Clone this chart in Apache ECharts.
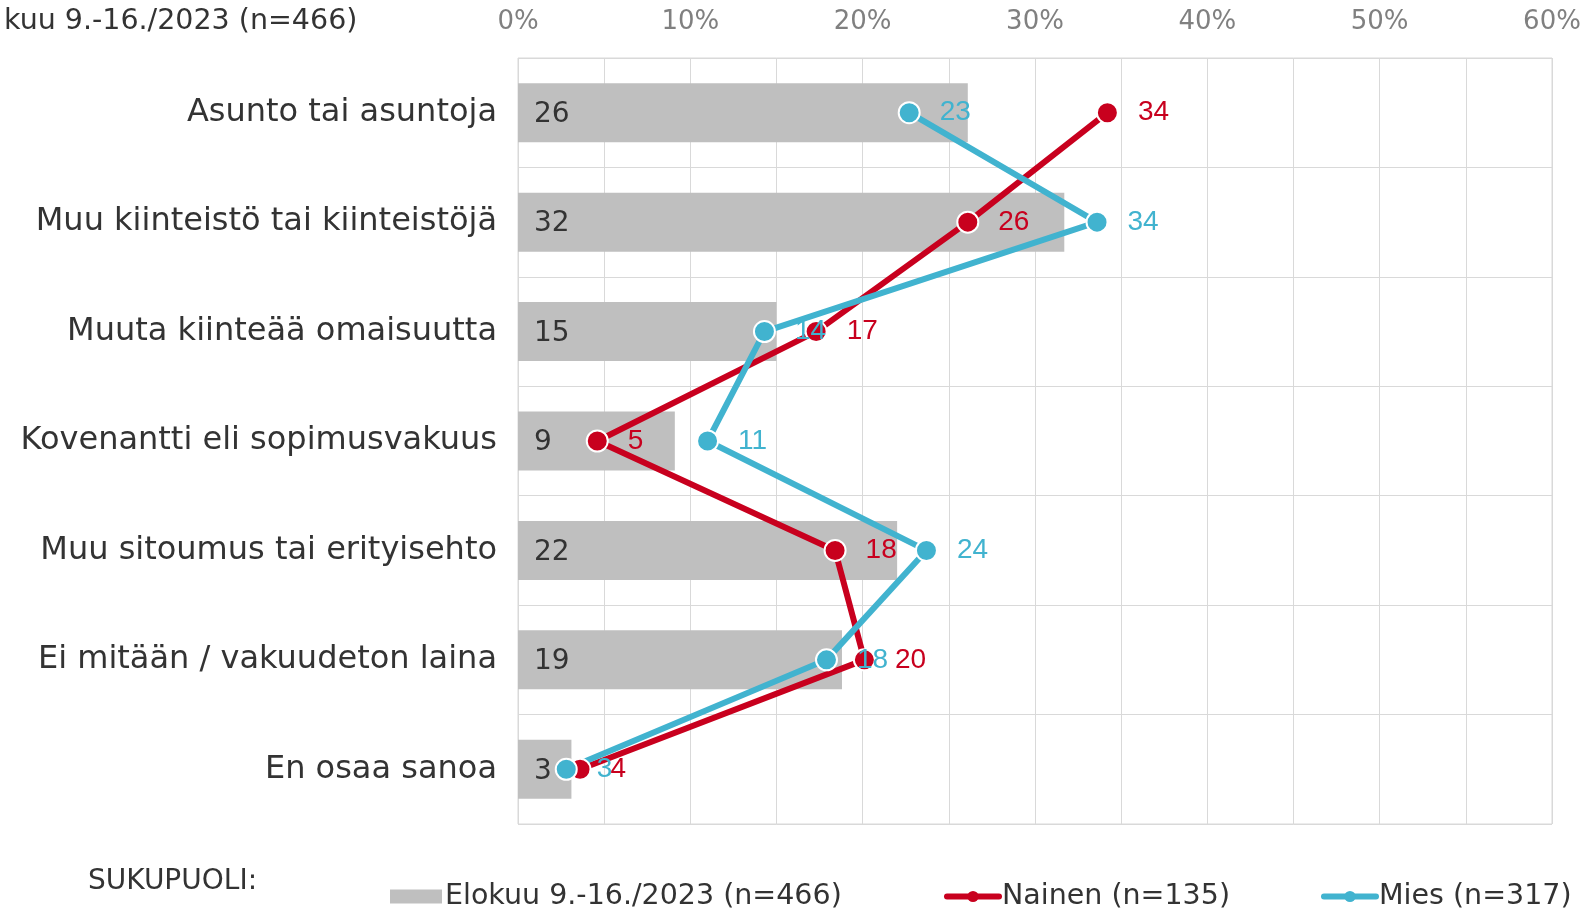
<!DOCTYPE html>
<html>
<head>
<meta charset="utf-8">
<script src="https://cdn.jsdelivr.net/npm/echarts@6/dist/echarts.min.js"></script>
<style>
  html, body { margin: 0; padding: 0; background: #fff; }
  #chart { width: 1591px; height: 913px; }
</style>
</head>
<body>
<div id="chart"></div>
<script>
const categories = ['Asunto tai asuntoja', 'Muu kiinteistö tai kiinteistöjä', 'Muuta kiinteää omaisuutta',
  'Kovenantti eli sopimusvakuus', 'Muu sitoumus tai erityisehto', 'Ei mitään / vakuudeton laina', 'En osaa sanoa']
const kaikki = [26.1, 31.7, 15.0, 9.1, 22.0, 18.8, 3.1]
const nainen = [34.2, 26.1, 17.3, 4.6, 18.4, 20.1, 3.6]
const mies = [22.7, 33.6, 14.3, 11.0, 23.7, 17.9, 2.8]
const xTicks = [0, 10, 20, 30, 40, 50, 60]

const RED = '#c8001e'
const BLUE = '#41b3cf'
const GREY = '#bfbfbf'

const chart = echarts.init(document.getElementById('chart'))

const lineSeries = (name, values, color) => ({
  name: name,
  type: 'line',
  data: values.map((v, i) => [v, categories[i]]),
  symbol: 'circle',
  symbolSize: 21,
  lineStyle: { color: color, width: 6 },
  itemStyle: { color: color, borderColor: '#fff', borderWidth: 2 },
  label: {
    show: true, position: 'right', distance: 19,
    fontFamily: 'Liberation Sans', fontSize: 28, color: color,
    formatter: p => Math.round(p.value[0])
  },
  emphasis: { disabled: true },
  z: 3
})

const legendBase = {
  top: 882, padding: 0, itemWidth: 52, itemHeight: 14, itemGap: 0,
  textStyle: { fontFamily: 'DejaVu Sans', fontSize: 28.5, color: '#333', padding: [0, 0, 0, -2] },
  lineStyle: { width: 6, cap: 'round' },
  itemStyle: { borderWidth: 0 },
  selectedMode: false
}

const option = {
  animation: false,
  backgroundColor: '#fff',
  title: {
    text: 'kuu 9.-16./2023 (n=466)', left: -1, top: 2,
    textStyle: { fontFamily: 'DejaVu Sans', fontSize: 28.5, fontWeight: 'normal', color: '#333' }
  },
  graphic: [{
    type: 'text', left: 88, top: 868,
    style: { text: 'SUKUPUOLI:', font: '28px "DejaVu Sans"', fill: '#333' }
  }],
  grid: { left: 518, right: 39, top: 58, bottom: 89, show: true, borderColor: '#d9d9d9', borderWidth: 1 },
  xAxis: {
    type: 'value', position: 'top', min: 0, max: 60, interval: 10,
    axisLine: { show: false }, axisTick: { show: false },
    axisLabel: {
      margin: 23, color: '#808080', fontFamily: 'DejaVu Sans', fontSize: 26,
      formatter: v => xTicks.includes(v) ? v + '%' : ''
    },
    splitLine: { lineStyle: { color: '#d9d9d9' } },
    minorTick: { show: false, splitNumber: 2 },
    minorSplitLine: { show: true, lineStyle: { color: '#d9d9d9' } }
  },
  yAxis: {
    type: 'category', data: categories, inverse: true,
    axisLine: { show: false }, axisTick: { show: false },
    axisLabel: { margin: 21, color: '#333', fontFamily: 'DejaVu Sans', fontSize: 32 },
    splitLine: { show: true, lineStyle: { color: '#d9d9d9' } }
  },
  legend: [
    Object.assign({}, legendBase, { left: 390, data: [{ name: 'Elokuu 9.-16./2023 (n=466)', icon: 'rect' }] }),
    Object.assign({}, legendBase, { left: 944, data: ['Nainen (n=135)'] }),
    Object.assign({}, legendBase, { left: 1321, data: ['Mies (n=317)'] })
  ],
  series: [
    {
      name: 'Elokuu 9.-16./2023 (n=466)',
      type: 'bar',
      data: kaikki,
      barWidth: 59,
      itemStyle: { color: GREY },
      label: {
        show: true, position: 'insideLeft', distance: 16, offset: [0, 2],
        fontFamily: 'DejaVu Sans', fontSize: 28, color: '#333',
        formatter: p => Math.round(p.value)
      },
      emphasis: { disabled: true },
      z: 1
    },
    lineSeries('Nainen (n=135)', nainen, RED),
    lineSeries('Mies (n=317)', mies, BLUE)
  ]
}

chart.setOption(option)
</script>
</body>
</html>
